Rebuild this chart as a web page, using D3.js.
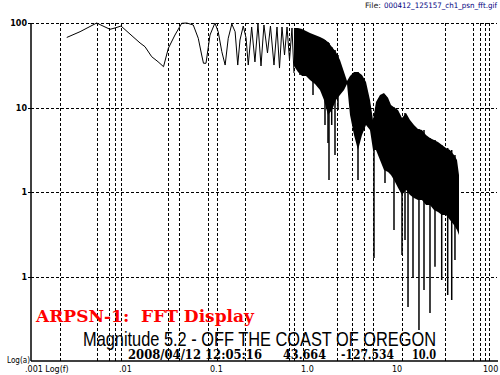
<!DOCTYPE html>
<html>
<head>
<meta charset="utf-8">
<script src="https://cdn.jsdelivr.net/npm/d3@7/dist/d3.min.js"></script>
<style>
  body { margin: 0; background: #fff; }
  svg { display: block; }
  text { white-space: pre; }
</style>
</head>
<body>
<svg id="chart" width="500" height="375"></svg>
<script>
// low frequency part of the spectrum (single trace)
var traceFreq = [0.00247, 0.00346, 0.00527, 0.00618, 0.00738, 0.00838, 0.00975, 0.0132, 0.0158, 0.0179,
  0.0212, 0.0249, 0.0286, 0.0323, 0.0382, 0.0453, 0.0514, 0.0607, 0.0689, 0.0751,
  0.0786, 0.0838, 0.0927, 0.105, 0.114, 0.125, 0.136, 0.147, 0.161, 0.175,
  0.187, 0.198, 0.215, 0.231, 0.244, 0.266, 0.289, 0.312, 0.337, 0.363,
  0.397, 0.428, 0.468, 0.505, 0.538, 0.573, 0.611, 0.651, 0.693, 0.738, 0.776];
var traceAmp = [67.4, 78.9, 100, 92.1, 84.2, 87.3, 92.1, 68.8, 58.0, 52.4,
  39.9, 34.8, 30.4, 50.2, 72.1, 99.2, 100, 94.7, 65.9, 41.8,
  33.4, 33.4, 72.1, 100, 78.9, 45.8, 31.8, 65.9, 97.3, 78.9,
  31.8, 62.9, 92.1, 66.4, 31.8, 89.7, 34.6, 97.3, 31.0, 94.7,
  44.2, 92.1, 31.8, 89.7, 29.3, 89.7, 41.8, 89.7, 36.5, 87.3, 25.6];

// high frequency part: max / min of the dense oscillation
var bandFreq = [0.776, 0.859, 0.951, 1.052, 1.164, 1.321, 1.499, 1.659, 1.835, 2.031,
  2.247, 2.486, 2.752, 2.969, 3.203, 3.544, 3.921, 4.339, 4.801, 5.312,
  5.731, 6.182, 6.841, 7.569, 8.379, 9.036, 9.75, 10.79, 11.94, 13.21,
  14.62, 16.17, 17.89, 19.80, 21.91, 24.24, 26.83, 29.68, 32.84, 36.34,
  40.21, 44.5, 48.0, 50.5];
var bandMax = [87.3, 87.3, 84.9, 80.4, 76.1, 72.1, 68.3, 64.7, 59.6, 52.0,
  45.4, 36.5, 26.3, 20.6, 23.6, 26.3, 26.3, 24.2, 20.0, 12.3,
  7.11, 11.6, 14.1, 14.8, 13.0, 10.7, 10.1, 9.34, 7.51, 8.61,
  7.11, 6.21, 5.57, 5.42, 4.73, 4.36, 4.12, 3.91, 3.60, 3.32,
  3.14, 2.74, 2.39, 1.59];
var bandMin = [31.0, 26.3, 23.6, 23.6, 21.2, 19.0, 16.1, 12.3, 8.15, 9.34,
  12.3, 14.1, 16.1, 19.0, 8.15, 4.73, 3.14, 4.73, 6.21, 5.42,
  3.14, 3.14, 2.39, 1.82, 1.72, 1.59, 1.39, 1.12, 0.921, 1.06,
  0.921, 0.849, 0.804, 0.804, 0.702, 0.702, 0.612, 0.580, 0.534, 0.534,
  0.466, 0.407, 0.355, 0.310];

// deep notches reaching below the band
var spikeFreq = [0.904, 1.256, 1.565, 1.701, 1.835, 1.882, 2.016, 2.191, 2.363, 3.921,
  5.878, 7.763, 9.75, 11.94, 12.88, 13.90, 15.77, 18.34, 20.83, 24.24,
  27.51, 32.60, 37.94, 42.0, 45.6];
var spikeTop = [62.9, 62.9, 62.9, 62.9, 59.6, 58.0, 52.0, 47.9, 41.8, 26.3,
  7.11, 14.1, 10.1, 7.51, 8.61, 7.11, 6.21, 5.57, 5.42, 4.36,
  4.12, 3.60, 3.32, 3.14, 2.74];
var spikeLow = [24.2, 14.1, 15.3, 6.21, 3.80, 1.39, 6.21, 2.74, 9.34, 1.39,
  0.166, 1.28, 0.355, 0.180, 0.270, 0.0436, 0.0987, 0.0233, 0.0692, 0.0370,
  0.130, 0.0909, 0.0604, 0.0527, 0.157];

var gridFreq = [0.00208, 0.00527, 0.00725, 0.00838, 0.00968, 0.0323, 0.0426, 0.0875, 0.110, 0.225,
  0.684, 0.782, 0.982, 2.29, 3.41, 4.60, 5.78, 11.85, 35.7, 72.5, 85.9, 97.5, 108.7];
var gridAmp = [100, 10, 1, 0.1];
var yTickVals = [100, 10, 1, 0.1];
var yTickLabels = ["100", "10", "1", "1"];
var xTickVals = [0.001, 0.01, 0.1, 1, 10, 100];
var xTickLabels = [".001 Log(f)", ".01", "0.1", "1.0", "10", "100"];

var svg = d3.select("#chart");
var plotL = 31, plotR = 486, plotT = 23, plotB = 361;

var x = d3.scaleLog().domain([0.001, 100]).range([plotL, plotR]);
var y = d3.scaleLog().domain([0.01, 100]).range([plotB, plotT]);

// grid
svg.append("g").selectAll("line")
  .data(gridFreq).enter().append("line")
  .attr("x1", function(d){ return Math.round(x(d)) + 0.5; })
  .attr("x2", function(d){ return Math.round(x(d)) + 0.5; })
  .attr("y1", plotT).attr("y2", plotB)
  .attr("stroke", "#000").attr("stroke-width", 1)
  .attr("stroke-dasharray", "3,2");

svg.append("g").selectAll("line")
  .data(gridAmp).enter().append("line")
  .attr("x1", plotL).attr("x2", 497)
  .attr("y1", function(d){ return Math.round(y(d)) + 0.5; })
  .attr("y2", function(d){ return Math.round(y(d)) + 0.5; })
  .attr("stroke", "#000").attr("stroke-width", 1)
  .attr("stroke-dasharray", "3,2");

// axes
svg.append("line").attr("x1", plotL).attr("x2", plotL).attr("y1", plotT).attr("y2", plotB)
  .attr("stroke", "#000").attr("stroke-width", 1.5);
svg.append("line").attr("x1", plotL).attr("x2", 498).attr("y1", plotB).attr("y2", plotB)
  .attr("stroke", "#000").attr("stroke-width", 1.5);

svg.append("g").selectAll("line")
  .data(yTickVals).enter().append("line")
  .attr("x1", plotL - 3).attr("x2", plotL)
  .attr("y1", function(d){ return Math.round(y(d)) + 0.5; })
  .attr("y2", function(d){ return Math.round(y(d)) + 0.5; })
  .attr("stroke", "#000");

svg.append("g").selectAll("text")
  .data(yTickVals).enter().append("text")
  .attr("x", 27)
  .attr("y", function(d){ return y(d) + 3; })
  .attr("text-anchor", "end")
  .attr("font-family", "DejaVu Sans")
  .attr("font-weight", "bold")
  .attr("font-size", 8)
  .text(function(d, i){ return yTickLabels[i]; });

svg.append("g").selectAll("text")
  .data(xTickVals).enter().append("text")
  .attr("x", function(d, i){ return i == 0 ? 25 : x(d) - 3; })
  .attr("y", 372)
  .attr("font-family", "DejaVu Sans")
  .attr("font-size", 8)
  .text(function(d, i){ return xTickLabels[i]; });

svg.append("text").attr("x", 7).attr("y", 363)
  .attr("font-family", "DejaVu Sans").attr("font-size", 8)
  .attr("textLength", 23).attr("lengthAdjust", "spacingAndGlyphs")
  .text("Log(a)");

// data
var band = bandFreq.map(function(f, i){ return [f, bandMax[i], bandMin[i]]; });
svg.append("path")
  .datum(band)
  .attr("d", d3.area()
    .x(function(d){ return x(d[0]); })
    .y0(function(d){ return y(d[2]); })
    .y1(function(d){ return y(d[1]); }))
  .attr("fill", "#000");

svg.append("g").selectAll("line")
  .data(spikeFreq).enter().append("line")
  .attr("x1", function(d){ return x(d); })
  .attr("x2", function(d){ return x(d); })
  .attr("y1", function(d, i){ return y(spikeTop[i]); })
  .attr("y2", function(d, i){ return y(spikeLow[i]); })
  .attr("stroke", "#000").attr("stroke-width", 1.5);

var trace = traceFreq.map(function(f, i){ return [f, traceAmp[i]]; });
svg.append("path")
  .datum(trace)
  .attr("d", d3.line()
    .x(function(d){ return x(d[0]); })
    .y(function(d){ return y(d[1]); }))
  .attr("fill", "none").attr("stroke", "#000").attr("stroke-width", 1);

// titles
svg.append("text").attr("x", 365).attr("y", 8)
  .attr("font-family", "DejaVu Sans").attr("font-size", 7.5).attr("fill", "#222")
  .attr("textLength", 16).attr("lengthAdjust", "spacingAndGlyphs")
  .text("File:");
svg.append("text").attr("x", 384).attr("y", 8)
  .attr("font-family", "DejaVu Sans").attr("font-size", 7.5).attr("fill", "#000080")
  .attr("textLength", 113).attr("lengthAdjust", "spacingAndGlyphs")
  .text("000412_125157_ch1_psn_fft.gif");

svg.append("text").attr("x", 36).attr("y", 322)
  .attr("font-family", "DejaVu Serif").attr("font-weight", "bold").attr("font-size", 16)
  .attr("fill", "#ff0000")
  .attr("textLength", 218).attr("lengthAdjust", "spacingAndGlyphs")
  .text("ARPSN-1:  FFT Display");

svg.append("text").attr("x", 83).attr("y", 346)
  .attr("font-family", "Liberation Sans").attr("font-size", 21)
  .attr("fill", "#000")
  .attr("textLength", 353).attr("lengthAdjust", "spacingAndGlyphs")
  .text("Magnitude 5.2 - OFF THE COAST OF OREGON");

var infoText = ["2008/04/12 12:05:16", "43.664", "-127.534", "10.0"];
var infoX = [128, 283, 341, 412];
var infoW = [134, 43, 53, 24];
svg.append("g").selectAll("text")
  .data(infoText).enter().append("text")
  .attr("x", function(d, i){ return infoX[i]; })
  .attr("y", 359)
  .attr("font-family", "DejaVu Serif").attr("font-weight", "bold").attr("font-size", 12)
  .attr("textLength", function(d, i){ return infoW[i]; })
  .attr("lengthAdjust", "spacingAndGlyphs")
  .text(function(d){ return d; });
</script>
</body>
</html>
